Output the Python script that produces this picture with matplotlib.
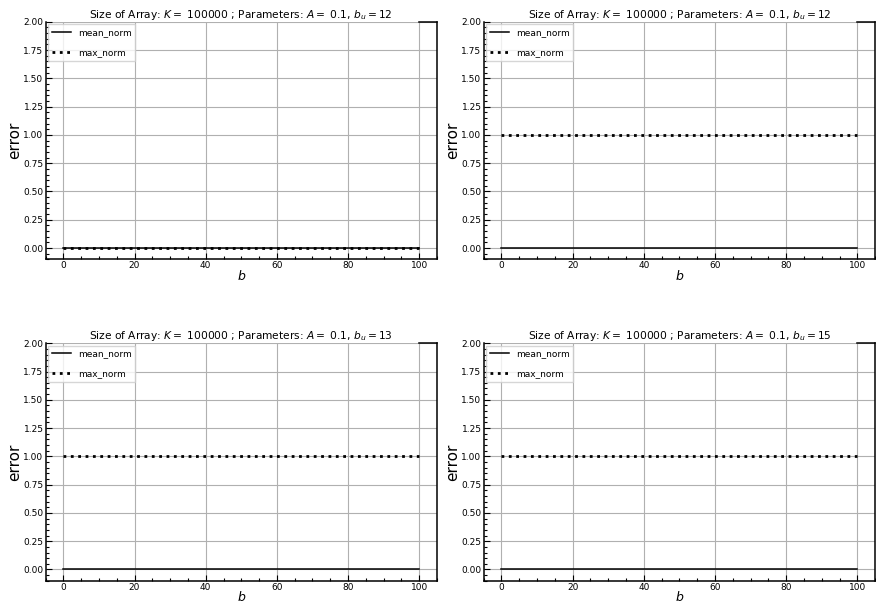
import matplotlib
matplotlib.use('Agg')
import matplotlib.pyplot as plt
import matplotlib as mpl
import numpy as np

plt.rcParams['font.size'] = 7
plt.rcParams['xtick.labelsize'] = 6.5
plt.rcParams['ytick.labelsize'] = 6.5
plt.rcParams['legend.fontsize'] = 6.5

# data
b = np.arange(0, 101)
mean_norm = [np.zeros(101), np.zeros(101), np.zeros(101), np.zeros(101)]
max_norm = [np.zeros(101), np.ones(101), np.ones(101), np.ones(101)]
b_u = [12, 12, 13, 15]
K = 100000
A = 0.1

fig, axes = plt.subplots(2, 2, figsize=(8.76, 6.05), dpi=100)
fig.subplots_adjust(left=0.052, right=0.999, top=0.964, bottom=0.040,
                    wspace=0.119, hspace=0.353)

for i, ax in enumerate(axes.flat):
    ax.plot(b, mean_norm[i], '-', color='black', lw=1.1, label='mean_norm')
    ax.plot(b, max_norm[i], ':', color='black', lw=2, label='max_norm')
    ax.set_xlim(-5, 105)
    ax.set_ylim(-0.1, 2.0)
    ax.grid(True, color='#b0b0b0', lw=0.8)
    ax.xaxis.set_major_locator(mpl.ticker.MultipleLocator(20))
    ax.xaxis.set_minor_locator(mpl.ticker.MultipleLocator(5))
    ax.yaxis.set_major_locator(mpl.ticker.MultipleLocator(0.25))
    ax.yaxis.set_minor_locator(mpl.ticker.MultipleLocator(0.05))
    ax.tick_params(which='major', direction='in', length=4, width=0.8, pad=1.5)
    ax.tick_params(which='minor', direction='in', length=2, width=0.8)
    for s in ax.spines.values():
        s.set_linewidth(1.1)
    ax.spines['top'].set_bounds(100, 105)
    ax.set_xlabel('$b$', fontsize=9, labelpad=-1)
    ax.set_ylabel('error', fontsize=11, labelpad=1)
    ax.set_title(r'Size of Array: $K=$ %d ; Parameters: $A=$ %s, $b_u=%d$'
                 % (K, A, b_u[i]), fontsize=7.7, pad=3)
    ax.legend(loc='upper left', handlelength=2.1, labelspacing=1.2,
              borderaxespad=0.3, fancybox=False, framealpha=0.8,
              edgecolor='#cccccc')

plt.savefig('out.png', dpi=100)
